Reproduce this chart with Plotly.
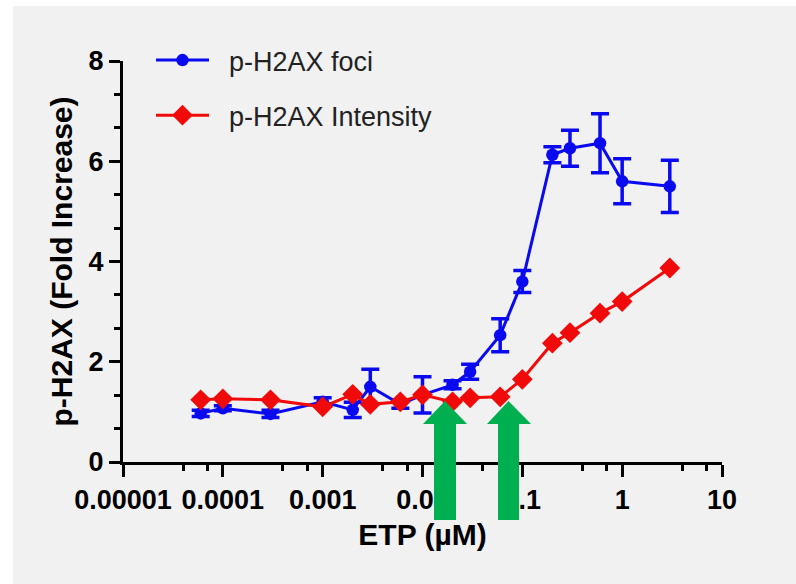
import plotly.graph_objects as go

# ---- data ----
doses = [6e-5, 1e-4, 3e-4, 1e-3, 2e-3, 3e-3, 6e-3, 1e-2, 2e-2, 3e-2, 6e-2,
         0.1, 0.2, 0.3, 0.6, 1.0, 3.0]
foci = [0.97, 1.07, 0.96, 1.20, 1.04, 1.50, 1.15, 1.34, 1.54, 1.80, 2.53,
        3.60, 6.13, 6.26, 6.36, 5.60, 5.50]
foci_err = [0.06, 0.05, 0.07, 0.08, 0.15, 0.35, 0.08, 0.36, 0.08, 0.15, 0.33,
            0.22, 0.16, 0.36, 0.59, 0.45, 0.52]
intensity = [1.24, 1.26, 1.24, 1.10, 1.35, 1.15, 1.20, 1.34, 1.20, 1.28, 1.30,
             1.65, 2.37, 2.58, 2.97, 3.20, 3.87]

x_tickvals = [1e-5, 1e-4, 1e-3, 1e-2, 1e-1, 1, 10]
x_ticktext = ["0.00001", "0.0001", "0.001", "0.01", "0.1", "1", "10"]
x_minor = [m * 10 ** e for e in range(-5, 1) for m in (4, 7)]
y_tickvals = [0, 2, 4, 6, 8]
y_minor = [v / 3 * 2 for v in range(1, 12) if v % 3 != 0]

BLUE = "#0a0af0"
RED = "#f00a0a"
GREEN = "#00b050"
BG = "#f1f1f1"

# plot area in pixels
L, R, T, B = 123, 74, 61, 122
W, H = 796, 584
PW, PH = W - L - R, H - T - B


def px(x):
    return (x - L) / PW


def py(y):
    return (H - B - y) / PH


NB = "\u00a0\u00a0"

fig = go.Figure()
fig.add_trace(go.Scatter(
    x=doses, y=foci, name=NB + "p-H2AX foci", mode="lines+markers",
    line=dict(color=BLUE, width=3),
    marker=dict(symbol="circle", size=12.5, color=BLUE),
    error_y=dict(type="data", array=foci_err, color=BLUE, thickness=3.5, width=9),
    legendgroup="a",
))
fig.add_trace(go.Scatter(
    x=doses, y=intensity, name=NB + "p-H2AX Intensity", mode="lines+markers",
    line=dict(color=RED, width=3),
    marker=dict(symbol="diamond", size=16, color=RED),
    legendgroup="b",
))


def arrow(tip_x, head_l, head_r, sh_l, sh_r, head_y=424, bottom=520, tip_y=401):
    pts = [(tip_x, tip_y), (head_r, head_y), (sh_r, head_y), (sh_r, bottom),
           (sh_l, bottom), (sh_l, head_y), (head_l, head_y)]
    path = "M " + " L ".join(f"{px(a):.5f},{py(b):.5f}" for a, b in pts) + " Z"
    return dict(type="path", xref="paper", yref="paper", path=path,
                fillcolor=GREEN, line=dict(width=0), layer="above")


shapes = [
    dict(type="rect", xref="paper", yref="paper", x0=px(0), x1=px(W), y0=py(0), y1=py(6),
         fillcolor="white", line=dict(width=0), layer="below"),
    dict(type="rect", xref="paper", yref="paper", x0=px(0), x1=px(13), y0=py(0), y1=py(H),
         fillcolor="white", line=dict(width=0), layer="below"),
    arrow(445, 423, 467, 434, 456),
    arrow(508.5, 487, 531, 498, 519),
]

FONT = "Liberation Sans, Arial, sans-serif"

fig.update_layout(
    width=W, height=H,
    margin=dict(l=L, r=R, t=T, b=B, autoexpand=False),
    paper_bgcolor=BG, plot_bgcolor=BG,
    shapes=shapes,
    showlegend=True,
    legend=dict(x=px(151), y=py(36), xanchor="left", yanchor="top",
                font=dict(family=FONT, size=27, color="#222222"),
                bgcolor="rgba(0,0,0,0)", tracegroupgap=17, traceorder="grouped",
                itemwidth=53),
    xaxis=dict(
        type="log", range=[-5, 1], tickmode="array", tickvals=x_tickvals,
        ticktext=x_ticktext, showgrid=False, zeroline=False,
        showline=True, linecolor="black", linewidth=3,
        ticks="outside", ticklen=12, tickwidth=3, tickcolor="black",
        tickfont=dict(family=FONT, size=27, color="black", weight="bold"),
        minor=dict(tickmode="array", tickvals=x_minor, ticks="outside",
                   ticklen=6, tickwidth=3, tickcolor="black", showgrid=False),
        title=dict(text="ETP (µM)", standoff=10,
                   font=dict(family=FONT, size=30, color="black", weight="bold")),
    ),
    yaxis=dict(
        range=[0, 8], tickmode="array", tickvals=y_tickvals,
        showgrid=False, zeroline=False,
        showline=True, linecolor="black", linewidth=3,
        ticks="outside", ticklen=11, tickwidth=3, tickcolor="black",
        tickfont=dict(family=FONT, size=27, color="black", weight="bold"),
        minor=dict(tickmode="array", tickvals=y_minor, ticks="outside",
                   ticklen=6, tickwidth=3, tickcolor="black", showgrid=False),
        title=dict(text="p-H2AX (Fold Increase)", standoff=8,
                   font=dict(family=FONT, size=30, color="black", weight="bold")),
    ),
)

fig.write_html("out.html")
